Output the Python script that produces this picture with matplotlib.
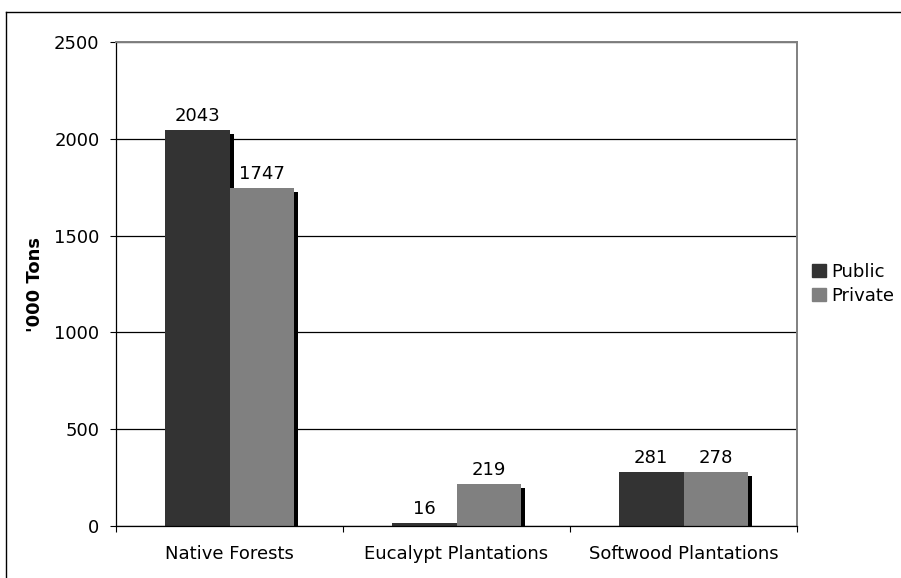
import matplotlib
matplotlib.use("Agg")
import matplotlib.pyplot as plt
import matplotlib.transforms as mtransforms
from matplotlib.lines import Line2D
from matplotlib.patches import Patch
import numpy as np

categories = ["Native Forests", "Eucalypt Plantations", "Softwood Plantations"]
public = [2043, 16, 281]
private = [1747, 219, 278]
yticks = [0, 500, 1000, 1500, 2000, 2500]

W, H, DPI = 901, 578, 100
FS = 13
plt.rcParams["font.family"] = ["DejaVu Sans"]

fig = plt.figure(figsize=(W / DPI, H / DPI), dpi=DPI)

# outer chart border (top and left edges visible)
fig.add_artist(Line2D([6 / W, 1.0], [1 - 12 / H, 1 - 12 / H], transform=fig.transFigure,
                      color="black", lw=1.0))
fig.add_artist(Line2D([6 / W, 6 / W], [0, 1 - 12 / H], transform=fig.transFigure,
                      color="black", lw=1.0))

left, right, top, bottom = 116, 797, 42, 526
ax = fig.add_axes([left / W, 1 - bottom / H, (right - left) / W, (bottom - top) / H])

x = np.arange(len(categories))
bw = 1 / 3.5
shadow = mtransforms.offset_copy(ax.transData, fig=fig, x=4, y=-4, units="dots")

series = [(public, "#333333", "Public", -bw / 2), (private, "#808080", "Private", bw / 2)]
for z, (vals, col, name, off) in enumerate(series):
    ax.bar(x + off, vals, width=bw, color="black", transform=shadow, zorder=3 + 2 * z)
    ax.bar(x + off, vals, width=bw, color=col, zorder=4 + 2 * z, label=name)
    for xi, v in zip(x + off, vals):
        ax.annotate(str(v), (xi, v), xytext=(0, 5), textcoords="offset pixels",
                    ha="center", va="bottom", fontsize=FS, zorder=10)

ax.set_xlim(-0.5, 2.5)
ax.set_ylim(0, 2500)
ax.set_yticks(yticks)
ax.set_yticklabels([str(t) for t in yticks])
ax.yaxis.grid(True, color="black", lw=0.9, zorder=0)
ax.set_axisbelow(True)

ax.set_xticks(x)
ax.set_xticklabels(categories)
ax.set_xticks([-0.5, 0.5, 1.5, 2.5], minor=True)
ax.tick_params(axis="x", which="major", length=0, pad=14, labelsize=FS)
ax.tick_params(axis="x", which="minor", length=4.3, width=0.8, direction="out")
ax.tick_params(axis="y", length=4.3, width=0.8, direction="out", pad=7.5, labelsize=FS)

for s in ("top", "right"):
    ax.spines[s].set_color("#808080")
    ax.spines[s].set_linewidth(1.4)
for s in ("left", "bottom"):
    ax.spines[s].set_color("black")
    ax.spines[s].set_linewidth(0.9)
ax.spines["bottom"].set_zorder(12)

ax.set_ylabel("'000 Tons", fontsize=FS, fontweight="bold", labelpad=7)

handles = [Patch(color="#333333", label="Public"), Patch(color="#808080", label="Private")]
fig.legend(handles=handles, loc="center left", bbox_to_anchor=(812 / W, 1 - 284 / H),
           frameon=False, fontsize=FS, handlelength=0.75, handleheight=0.75,
           handletextpad=0.3, labelspacing=0.35, borderaxespad=0, borderpad=0)

fig.savefig("out.png", dpi=DPI)
